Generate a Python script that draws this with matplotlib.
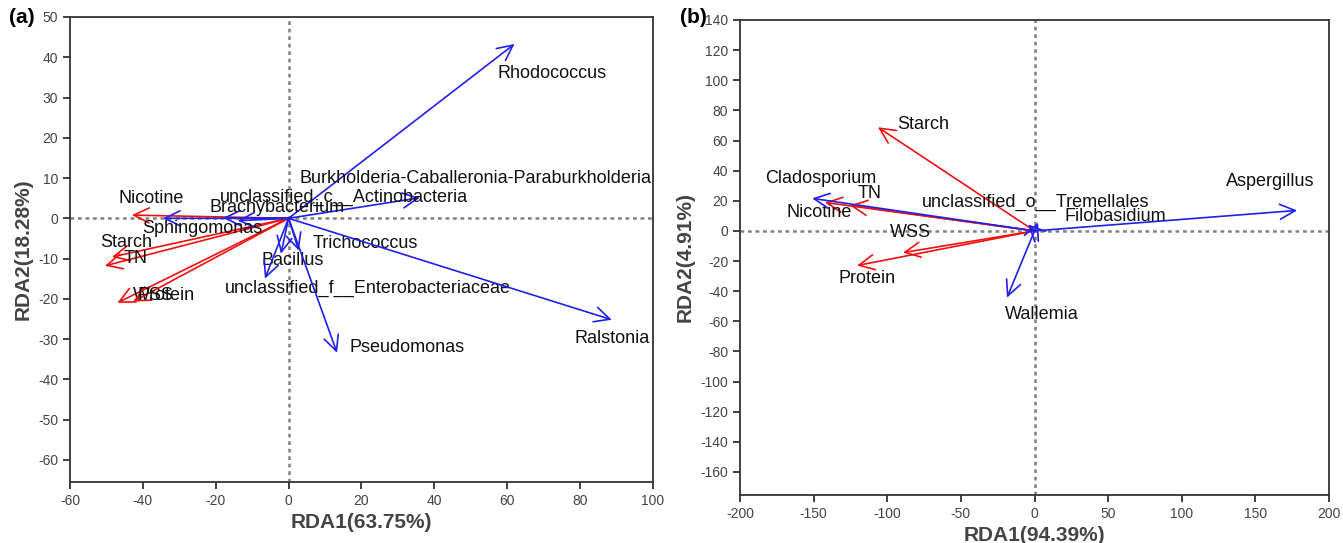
import matplotlib
matplotlib.use("Agg")
import matplotlib.pyplot as plt

plt.rcParams["font.family"] = ["Liberation Sans", "DejaVu Sans"]
plt.rcParams["axes.unicode_minus"] = False

# ---- panel (a): bacteria ----
env_a = ["Nicotine", "Starch", "TN", "WSS", "Protein"]
env_a_x = [-43, -48.5, -50.4, -47, -42.7]
env_a_y = [0.8, -9.6, -11.8, -21, -20.7]
env_a_lab = [(-46.8, 4.8), (-51.8, -6.1), (-45.2, -10.0), (-42.7, -19.2), (-41.6, -19.2)]

sp_a = ["Rhodococcus", "Burkholderia-Caballeronia-Paraburkholderia",
        "unclassified_c__Actinobacteria", "Brachybacterium", "Sphingomonas",
        "Trichococcus", "Bacillus", "unclassified_f__Enterobacteriaceae",
        "Pseudomonas", "Ralstonia"]
sp_a_x = [62, 36, -14, -18, -34.5, 2.8, -2.1, -6.5, 13.3, 88.7]
sp_a_y = [43.3, 5.1, -0.6, 0.1, 0, -8, -8.8, -15.0, -33.4, -25.2]
sp_a_lab = [(57.2, 35.9), (3.1, 10.0), (-18.8, 5.3), (-21.6, 2.6), (-40.2, -2.6),
            (6.7, -6.3), (-7.3, -10.5), (-17.5, -17.5), (16.8, -32.1), (78.6, -29.9)]

# ---- panel (b): fungi ----
env_b = ["Starch", "TN", "Nicotine", "WSS", "Protein"]
env_b_x = [-106.3, -125.3, -142.3, -89.3, -120.5]
env_b_y = [68.8, 16.9, 18.9, -14.4, -23.0]
env_b_lab = [(-93.4, 70.8), (-119.9, 24.9), (-168.1, 12.3), (-98.1, -1.1), (-133.4, -31.7)]

sp_b = ["Aspergillus", "Filobasidium", "unclassified_o__Tremellales",
        "Wallemia", "Cladosporium"]
sp_b_x = [178.3, 2.4, -4.4, -18.7, -151]
sp_b_y = [13.6, 5.6, 4.3, -44.3, 21.6]
sp_b_lab = [(130.0, 32.9), (20.7, 9.6), (-76.4, 18.9), (-20.0, -55.6), (-183.0, 34.9)]

RED = "#f01010"
BLUE = "#2020ea"
AXC = "#333333"


def draw_arrows(ax, names, xs, ys, labs, color):
    for name, x, y, (lx, ly) in zip(names, xs, ys, labs):
        ax.annotate("", xy=(x, y), xytext=(0, 0),
                    arrowprops=dict(arrowstyle="->,head_length=0.55,head_width=0.27",
                                    color=color, lw=1.2, shrinkA=0, shrinkB=0,
                                    mutation_scale=20))
        ax.text(lx, ly, name, fontsize=13, ha="left", va="center", color="#111111")


def style_axes(ax, xlim, ylim, xticks, yticks, xlabel, ylabel):
    ax.set_xlim(xlim)
    ax.set_ylim(ylim)
    ax.set_xticks(xticks)
    ax.set_yticks(yticks)
    ax.axhline(0, color="#808080", lw=1.8, ls=(0, (1.5, 1.5)), zorder=0)
    ax.axvline(0, color="#808080", lw=1.8, ls=(0, (1.5, 1.5)), zorder=0)
    for s in ax.spines.values():
        s.set_color(AXC)
        s.set_linewidth(1.3)
    ax.tick_params(direction="out", length=5, width=1.3, color=AXC,
                   labelsize=10, labelcolor="#444444")
    ax.set_xlabel(xlabel, fontsize=15, fontweight="bold", color="#444444", labelpad=4)
    ax.set_ylabel(ylabel, fontsize=15, fontweight="bold", color="#444444", labelpad=4)


fig = plt.figure(figsize=(13.43, 5.43), dpi=100)
ax1 = fig.add_axes([0.0521, 0.1123, 0.4341, 0.8564])
ax2 = fig.add_axes([0.5510, 0.0884, 0.4386, 0.8748])

style_axes(ax1, (-60, 100), (-65.5, 50), range(-60, 101, 20), range(-60, 51, 10),
           "RDA1(63.75%)", "RDA2(18.28%)")
draw_arrows(ax1, env_a, env_a_x, env_a_y, env_a_lab, RED)
draw_arrows(ax1, sp_a, sp_a_x, sp_a_y, sp_a_lab, BLUE)

style_axes(ax2, (-200, 200), (-175.3, 140), range(-200, 201, 50), range(-160, 141, 20),
           "RDA1(94.39%)", "RDA2(4.91%)")
draw_arrows(ax2, env_b, env_b_x, env_b_y, env_b_lab, RED)
draw_arrows(ax2, sp_b, sp_b_x, sp_b_y, sp_b_lab, BLUE)

fig.text(0.007, 0.968, "(a)", fontsize=15, fontweight="bold", va="center")
fig.text(0.506, 0.968, "(b)", fontsize=15, fontweight="bold", va="center")

fig.savefig("out.png", dpi=100)
